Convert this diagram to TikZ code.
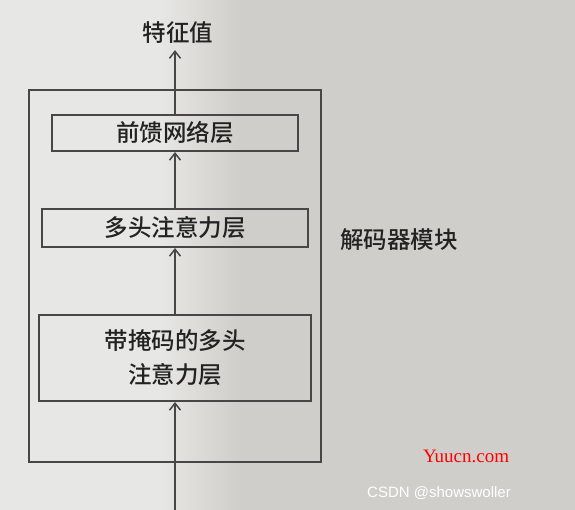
\documentclass[tikz,border=0pt]{standalone}
\usepackage{fontspec}
\setmainfont{Liberation Serif}
\newfontfamily\cjk{Noto Sans CJK SC}[UprightFont={* Medium}]
\usetikzlibrary{arrows.meta}
\definecolor{paperl}{HTML}{E7E7E5}
\definecolor{paperd}{HTML}{D0CECA}
\definecolor{linec}{HTML}{474747}
\definecolor{textc}{HTML}{222222}
\begin{document}
\begin{tikzpicture}[x=1pt,y=-1pt,
  layer/.style={draw=linec, line width=2pt, inner sep=0pt, font=\cjk\fontsize{23.5}{34}\selectfont, text=textc, align=center},
  lbl/.style={inner sep=0pt, font=\cjk\fontsize{23.5}{28}\selectfont, text=textc},
  flow/.style={draw=linec, line width=2pt, -{Straight Barb[length=7pt,width=11pt,line width=1.5pt]}}]
\useasboundingbox (0,0) rectangle (575,510);
\fill[paperl] (0,0) rectangle (160,510);
\shade[left color=paperl, right color=paperd] (159,0) rectangle (240,510);
\fill[paperd] (239,0) rectangle (575,510);
% outer block
\node[draw=linec, line width=2pt, minimum width=292pt, minimum height=372pt, inner sep=0pt] (dec) at (175,276) {};
\node[lbl, anchor=west] (declbl) at (340,240) {解码器模块};
% layers
\node[layer, minimum width=246pt, minimum height=36pt] (ffn) at (175,133) {前馈网络层};
\node[layer, minimum width=266pt, minimum height=38pt] (mha) at (175,228) {多头注意力层};
\node[layer, minimum width=272pt, minimum height=86pt] (mmha) at (175,358) {带掩码的多头\\注意力层};
\node[lbl] (out) at (178,33) {特征值};
\coordinate (in) at (175,512);
% connectors
\draw[flow] (in) -- (mmha.south);
\draw[flow] (mmha.north) -- (mha.south);
\draw[flow] (mha.north) -- (ffn.south);
\draw[flow] (ffn.north) -- ([yshift=-6pt]ffn.north |- out.south);
% watermarks
\node[inner sep=0pt, text=red, font=\fontsize{19}{20}\selectfont] (wm1) at (466,456) {Yuucn.com};
\node[inner sep=0pt, text=white, font=\fontspec{Liberation Sans}\fontsize{15}{16}\selectfont] (wm2) at (439,493) {CSDN @showswoller};
\end{tikzpicture}
\end{document}
